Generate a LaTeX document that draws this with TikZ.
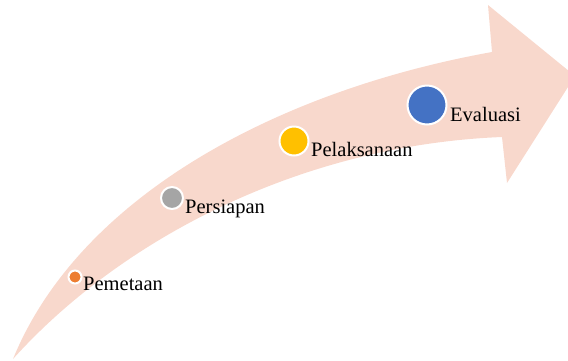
\documentclass[tikz,border=0pt]{standalone}
\usepackage{fontspec}
\setmainfont{Liberation Serif}
\usepackage{tikz}
\usetikzlibrary{positioning}
\definecolor{bandfill}{HTML}{F8D8CC}
\definecolor{mapcol}{HTML}{ED7D31}
\definecolor{prepcol}{HTML}{A5A5A5}
\definecolor{runcol}{HTML}{FFC000}
\definecolor{evalcol}{HTML}{4472C4}
\newcommand{\stagefont}{\fontsize{20.5}{24}\selectfont}

\begin{document}
\begin{tikzpicture}[x=1pt, y=-1pt,
      stage/.style={circle, draw=white, line width=2pt, inner sep=0pt},
      lbl/.style={anchor=base west, inner sep=0pt, font=\stagefont}]
    \useasboundingbox (0,0) rectangle (568,360);
    \clip (0,0) rectangle (568,360);
    % curved arrow
    \fill[bandfill] (13,359) .. controls (120,240) and (300,145) .. (502,137)
      -- (507,183) -- (575,76) -- (488,5) -- (492,52)
      .. controls (280,90) and (80,195) .. cycle;
    % stages
    \node[stage, fill=mapcol, minimum size=13pt] (pemetaan) at (75,277) {};
    \node[stage, fill=prepcol, minimum size=22pt] (persiapan) at (172,198) {};
    \node[stage, fill=runcol, minimum size=29pt] (pelaksanaan) at (294,141) {};
    \node[stage, fill=evalcol, minimum size=39pt] (evaluasi) at (427,105) {};
    \node[lbl] (pemetaanlbl) at (83,290) {Pemetaan};
    \node[lbl] (persiapanlbl) at (185,213) {Persiapan};
    \node[lbl] (pelaksanaanlbl) at (311,156) {Pelaksanaan};
    \node[lbl] (evaluasilbl) at (450,121) {Evaluasi};
  \end{tikzpicture}
\end{document}
